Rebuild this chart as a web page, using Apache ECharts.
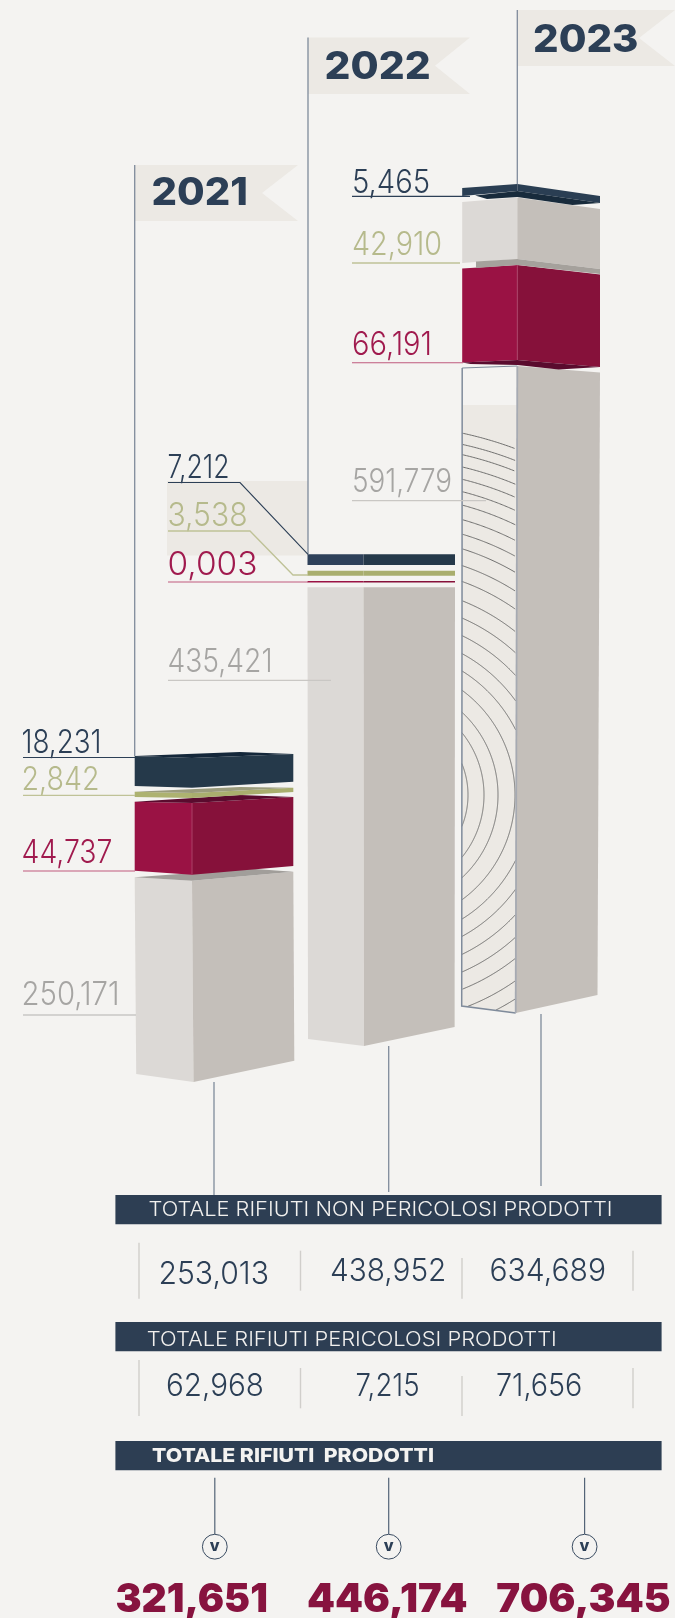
<!DOCTYPE html>
<html><head><meta charset="utf-8">
<style>html,body{margin:0;padding:0;background:#f4f3f1}#c{width:675px;height:1618px}</style>
<script src="https://cdn.jsdelivr.net/npm/echarts@6/dist/echarts.min.js"></script>
</head><body><div id="c"></div>
<script>
// ---------- data ----------
const years = ['2021', '2022', '2023'];
const baseValues = [250171, 435421, 591779];
const crimsonValues = [44737, 3, 66191];
const oliveValues = [2842, 3538, 42910];
const navyValues = [18231, 7212, 5465];
const totalNonHazardous = [253013, 438952, 634689];
const totalHazardous = [62968, 7215, 71656];
const totalWaste = [321651, 446174, 706345];
const headerNonHazardous = 'TOTALE RIFIUTI NON PERICOLOSI PRODOTTI';
const headerHazardous = 'TOTALE RIFIUTI PERICOLOSI PRODOTTI';
const headerTotal = 'TOTALE RIFIUTI  PRODOTTI';

// ---------- layout (the source infographic is not to a common scale: each block gets its own axis span) ----------
const BG = '#f4f3f1', INK = '#2c3f56', FLAG = '#ecE9E4', RULE = '#7f8b9b';
const C = {
  crimson: '#a01a4e', olive: '#b6ba8c', grey: '#a6a5a3',
  lineCrimson: '#bf5a7e', lineOlive: '#bfc297', lineGrey: '#c9c7c4', total: '#87133f'
};
const barX = [[134.7, 192, 293.3], [307.5, 363.5, 455], [462.2, 517.3, 600]];
// t,b = apex y of the block's top/bottom; st,sb = [left,right] edge offsets from the apex
const blockLayout = [
  [ { t: 880.7, b: 1082, st: [-3.4, -9], sb: [-8, -21.3], dxb: [1.5, 1.5, 1], f: '#dcd9d6', s: '#c4bfba',
      lid: { c: '#a19e9a', p: [[0, 't', -3.4], [.74, 't', -12], [1, 't', -9], [.361, 't', 0]] } },
    { t: 803, b: 874.7, st: [-1.3, -6], sb: [-4, -8.7], f: '#9a1244', s: '#86113a', e: '#ab4067',
      lid: { c: '#5a0b2e', p: [[0, 't', -1.3], [.663, 't', -8], [1, 't', -6], [.361, 't', 0]] } },
    { t: 793, b: 798, st: [-1.3, -5.3], sb: [-1, -6], f: '#adb270', s: '#a9ae6e',
      lid: { c: '#9a9b7c', p: [[0, 't', -1.3], [.663, 't', -6], [1, 't', -5.3], [.361, 't', 0]] } },
    { t: 758, b: 787.7, st: [-2, -4], sb: [-1.7, -6], f: '#25394a', s: '#25394a',
      lid: { c: '#14273a', p: [[0, 't', -2], [.663, 't', -6], [1, 't', -4], [.361, 't', 0]] } } ],
  [ { t: 587.3, b: 1046, st: [0, 0], sb: [-7, -19], dxb: [.5, .5, -.4], f: '#dcd9d6', s: '#c4bfba' },
    { t: 581, b: 582.6, st: [0, 0], sb: [0, 0], f: '#9a1244', s: '#86113a' },
    { t: 570.7, b: 575.8, st: [0, 0], sb: [0, 0], f: '#a9ae6e', s: '#a9ae6e' },
    { t: 554.3, b: 565, st: [0, 0], sb: [0, 0], f: '#2e415a', s: '#25394a' } ],
  [ { t: 366, b: 1013, st: [2, 6.5], sb: [-7, -18], dxb: [-.5, -1.6, -2.5], hatch: true, f: '#ecE9E4', s: '#c4bfba' },
    { t: 265, b: 360, st: [3.5, 9.5], sb: [2.5, 7], f: '#9a1244', s: '#86113a', e: '#ab4067',
      lid: { c: '#5a0b2e', p: [[0, 'b', 2.5], [.4, 'b', 0], [1, 'b', 7], [.7, 'b', 9.5], [.4, 'b', 5], [.06, 'b', 4]] } },
    { t: 197.5, b: 259, st: [4.5, 11.5], sb: [4, 10], f: '#dcd9d6', s: '#c4bfba',
      lid: { c: '#a5a19c', p: [[.1, 'b', 2.5], [.4, 'b', 0], [1, 'b', 10], [1, 'b', 15], [.4, 'b', 6], [.1, 'b', 9]] } },
    { t: 184, b: 191, st: [4, 12], sb: [5, 12], f: '#2a3e53', s: '#2a3e53',
      lid: { c: '#182b3c', p: [[.094, 'b', 4.5], [.4, 'b', 0], [1, 'b', 12], [.8, 'b', 14], [.4, 'b', 6], [.18, 'b', 8]] } } ]
];
const seriesValues = [baseValues, crimsonValues, oliveValues, navyValues];

// wood-grain texture of the 2023 base block
const grainCentre = [385, 795];
const grainRadii = [83, 99, 113, 130, 146, 161, 177, 193, 209, 227, 242, 258, 272, 286, 300, 313, 325, 337, 349, 359, 370];

const fmt = v => Math.floor(v / 1000) + ',' + String(v % 1000).padStart(3, '0');

const measure = document.createElement('canvas').getContext('2d');
function text(str, x, base, size, weight, family, fill, width, mid) {
  const font = weight + ' ' + size + 'px ' + family;
  measure.font = font;
  const sx = width ? width / measure.measureText(str).width : 1;
  return { type: 'text', x: x, y: base - size * (mid == null ? 0.36 : mid), z: 10, scaleX: sx, silent: true,
    style: { text: str, font: font, fill: fill, align: 'left', verticalAlign: 'middle' } };
}
const line = (pts, stroke, w) => ({ type: 'polyline', z: 10, silent: true, shape: { points: pts },
  style: { stroke: stroke, lineWidth: w, fill: null } });
const poly = (pts, fill, z) => ({ type: 'polygon', z: z == null ? 10 : z, silent: true, shape: { points: pts }, style: { fill: fill } });
const rect = (x, y, w, h, fill, z) => ({ type: 'rect', z: z == null ? 10 : z, silent: true, shape: { x: x, y: y, width: w, height: h }, style: { fill: fill } });

const LT = '300', SANS = 'Inter';
const g = [];
// ghost panel behind the 2022 labels
g.push(rect(167, 481, 141, 74.6, FLAG, 0));
// poles and flags
const flags = [[134.7, 165, 298, 262, 221], [308, 37.5, 470, 435, 94], [517.3, 10, 675, 639, 66]];
const poleEnd = [756, 554.3, 184];
flags.forEach((f, i) => {
  g.push(poly([[f[0], f[1]], [f[2], f[1]], [f[3], (f[1] + f[4]) / 2], [f[2], f[4]], [f[0], f[4]]], FLAG, 1));
  g.push(line([[f[0], f[1]], [f[0], poleEnd[i]]], RULE, 1.3));
});
const yearPos = [[151.5, 207.5, 96.4], [324.6, 81.5, 106], [533, 54, 105.5]];
years.forEach((y, i) => g.push(text(y, yearPos[i][0], yearPos[i][1], 38, '800', 'Inter', INK, yearPos[i][2])));

// series labels with leader lines
const labelLayout = [
  { c: C.grey, l: C.lineGrey, pos: [[21.5, 1004, 98], [167.5, 671, 105], [352, 491, 100]],
    lines: [[[23, 1015], [136, 1015]], [[168, 680.4], [331, 680.4]], [[352, 500.7], [486, 500.7]]] },
  { c: C.crimson, l: C.lineCrimson, pos: [[21.5, 862.5, 91], [167.5, 574.6, 90], [352, 354.6, 80]],
    lines: [[[23, 871], [135, 871]], [[168, 582], [308, 582]], [[352, 362.8], [463, 362.8]]] },
  { c: C.olive, l: C.lineOlive, pos: [[21.5, 789, 78], [167.5, 525.7, 80], [352, 254.6, 90]],
    lines: [[[23, 795.4], [135, 795.4]], [[168, 531], [250, 531], [293, 575], [308, 575]], [[352, 263], [460, 263]]] },
  { c: INK, l: INK, pos: [[21.5, 752.5, 80], [167.5, 477, 62], [352, 192, 78]],
    lines: [[[23, 757.5], [135, 757.5]], [[168, 482.5], [240, 482.5], [308, 554.3]], [[352, 196.4], [470, 196.4]]] }
];
seriesValues.forEach((vals, s) => {
  const L = labelLayout[s];
  vals.forEach((v, i) => {
    g.push(text(fmt(v), L.pos[i][0], L.pos[i][1], 32, LT, SANS, L.c, L.pos[i][2], 0.28));
    g.push(line(L.lines[i], L.l, s === 3 || s === 1 ? 1.1 : 1.3));
  });
});

// connector verticals to the table
[[214, 1082, 1195], [388.7, 1046, 1192], [541, 1014, 1186]].forEach(v => g.push(line([[v[0], v[1]], [v[0], v[2]]], RULE, 1.3)));

// table bands
[1195, 1322, 1441].forEach(y => g.push(rect(115.4, y, 546.2, 29.3, '#2d3e53')));
g.push(text(headerNonHazardous, 148.5, 1216.7, 20, '300', SANS, '#f1f0ee', 464));
g.push(text(headerHazardous, 146.8, 1347.5, 20, '300', SANS, '#f1f0ee', 410));
g.push(text(headerTotal, 152, 1462.7, 19, '800', SANS, '#f4f3f1', 282));

// table rows
const row1X = [[158.4, 1283, 110.6], [330, 1280.7, 116.4], [489.5, 1280.7, 116.5]];
const row2X = [[166, 1395, 98], [355.6, 1395, 64], [496, 1395, 86.4]];
totalNonHazardous.forEach((v, i) => g.push(text(fmt(v), row1X[i][0], row1X[i][1], 31, LT, SANS, INK, row1X[i][2], 0.28)));
totalHazardous.forEach((v, i) => g.push(text(fmt(v), row2X[i][0], row2X[i][1], 31, LT, SANS, INK, row2X[i][2], 0.28)));
[[139, 1242.7, 1298.7], [300.5, 1250.7, 1290.7], [462, 1258, 1298.7], [633, 1250.7, 1290.7],
 [139, 1360, 1416], [300.5, 1368, 1408.3], [462, 1376, 1416], [633, 1368, 1408.3]]
  .forEach(v => g.push(line([[v[0], v[1]], [v[0], v[2]]], '#d0cecb', 1.4)));

// totals
const totalX = [[214.8, 115.4, 152.4], [388.7, 307, 160.5], [584.6, 496.3, 174.4]];
totalWaste.forEach((v, i) => {
  const T = totalX[i];
  g.push(line([[T[0], 1477.7], [T[0], 1534]], '#536377', 1.2));
  g.push({ type: 'circle', z: 10, silent: true, shape: { cx: T[0], cy: 1546.7, r: 12.4 }, style: { fill: 'none', stroke: '#3a4c62', lineWidth: 1 } });
  g.push(text('v', T[0] - 5, 1552, 16, '800', SANS, INK));
  g.push(text(fmt(v), T[1], 1614.2, 40, '900', SANS, C.total, T[2]));
});

// ---------- block renderer ----------
function hatchLines(front) {
  const out = [];
  const [cx, cy] = grainCentre;
  const inside = (x, y) => x >= front.xl && x <= front.xa && y <= front.yl + (front.ya - front.yl) * (x - front.xl) / (front.xa - front.xl);
  grainRadii.forEach(r => {
    let run = [];
    for (let a = -90; a <= 90; a += 0.25) {
      const x = cx + r * Math.cos(a * Math.PI / 180), y = cy + r * Math.sin(a * Math.PI / 180);
      if (inside(x, y)) run.push([x, y]);
      else { if (run.length > 1) out.push(run); run = []; }
    }
    if (run.length > 1) out.push(run);
  });
  return out;
}
function renderBlock(y, s) {
  const B = blockLayout[y][s], X = barX[y];
  return function (params, api) {
    const yT = api.coord([0, api.value(1)])[1], yB = api.coord([0, 0])[1];
    const dx = B.dxb || [0, 0, 0];
    const tl = [X[0], yT + B.st[0]], ta = [X[1], yT], tr = [X[2], yT + B.st[1]];
    const bl = [X[0] + dx[0], yB + B.sb[0]], ba = [X[1] + dx[1], yB], br = [X[2] + dx[2], yB + B.sb[1]];
    const P = (pts, fill) => ({ type: 'polygon', shape: { points: pts }, style: { fill: fill } });
    const L = (pts, stroke, w) => ({ type: 'polyline', shape: { points: pts }, style: { stroke: stroke, lineWidth: w, fill: null } });
    const kids = [P([tl, ta, ba, bl], B.f), P([ta, tr, br, ba], B.s)];
    if (B.e) kids.push(L([ta, ba], B.e, 1));
    if (B.lid) kids.push(P(B.lid.p.map(p => [X[0] + p[0] * (X[2] - X[0]), (p[1] === 't' ? yT : yB) + p[2]]), B.lid.c));
    if (B.hatch) {
      const cut = yT + 39;
      kids.push(P([tl, ta, [ta[0], cut], [tl[0], cut]], BG));
      hatchLines({ xl: bl[0], xa: ba[0], yl: bl[1], ya: ba[1] }).forEach(r => {
        kids.push(L(r.filter(p => p[1] > 425), '#6f6f6e', 1));
      });
      kids.push(L([tl, ta], '#7f8b9b', 1.2));
      kids.push(L([tl, bl, ba], '#7f8b9b', 1.5));
      kids.push(L([ta, ba], '#a6aab2', 1.8));
    }
    return { type: 'group', children: kids };
  };
}

const grid = [], xAxis = [], yAxis = [], series = [];
seriesValues.forEach((vals, s) => vals.forEach((v, y) => {
  const B = blockLayout[y][s], X = barX[y], idx = grid.length;
  grid.push({ left: X[0], width: X[2] - X[0], top: B.t, height: B.b - B.t, containLabel: false });
  xAxis.push({ type: 'value', gridIndex: idx, min: 0, max: 1, show: false });
  yAxis.push({ type: 'value', gridIndex: idx, min: 0, max: v, show: false });
  series.push({ type: 'custom', xAxisIndex: idx, yAxisIndex: idx, clip: false, silent: true,
    encode: { x: 0, y: 1 }, data: [[0, v]], renderItem: renderBlock(y, s), animation: false, z: 2 });
}));

const chart = echarts.init(document.getElementById('c'), null, { renderer: 'canvas', width: 675, height: 1618 });
chart.setOption({ animation: false, backgroundColor: BG, tooltip: { show: false },
  grid, xAxis, yAxis, series, graphic: { elements: g } });
</script></body></html>
